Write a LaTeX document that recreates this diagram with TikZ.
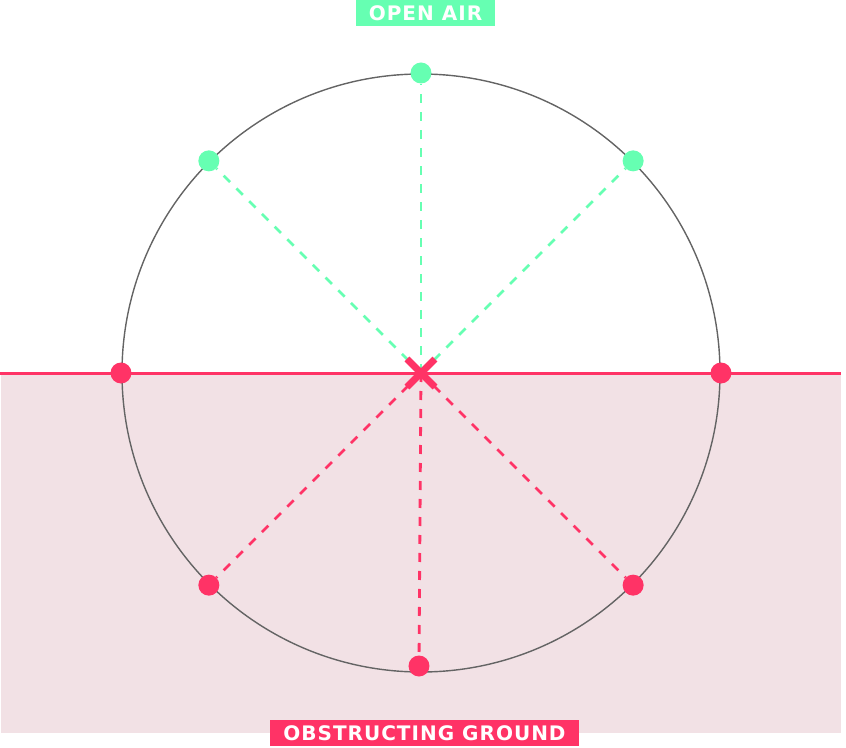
\documentclass[tikz,border=0pt]{standalone}
\usepackage{fontspec}
\newfontfamily\tagfont[LetterSpace=5]{DejaVu Sans}
\usetikzlibrary{calc}
\definecolor{airgreen}{RGB}{102,255,178}
\definecolor{groundred}{RGB}{255,51,102}
\definecolor{groundfill}{RGB}{242,225,229}
\definecolor{rimgray}{RGB}{100,100,100}

\begin{document}
\begin{tikzpicture}[x=1pt,y=1pt,
  dot/.style={circle,inner sep=0pt,minimum size=21pt},
  ray/.style={dash pattern=on 9pt off 9pt,line width=2.8pt},
  tag/.style={inner sep=0pt,minimum height=26pt,text=white,
    font=\tagfont\bfseries\fontsize{20}{20}\selectfont}]
\useasboundingbox (-421,-374) rectangle (425,373);
% ground below the horizon
\fill [groundfill] (-420,0) rectangle (420,-360);
\coordinate (c) at (0,0);
\draw [rimgray, line width=1.4pt] (c) circle (299);
\draw [groundred, line width=3pt] (-421,0) coordinate (hl) -- (420,0) coordinate (hr);
% free directions
\foreach \a/\n in {45/ne,90/n,135/nw}
  \node [dot, fill=airgreen] (\n) at (\a:300) {};
% blocked directions
\foreach \a/\n in {0/e,180/w,225/sw,315/se}
  \node [dot, fill=groundred] (\n) at (\a:300) {};
\node [dot, fill=groundred] (s) at (-2,-293) {};
\foreach \n in {ne,n,nw}
  \draw [ray, airgreen] (c) -- (\n);
\foreach \n in {sw,s,se}
  \draw [ray, groundred] (c) -- (\n);
% observer
\draw [groundred, line width=7pt] (-14,-14) -- (14,14) (-14,14) -- (14,-14);
\node [tag, fill=airgreen, minimum width=139pt] (air) at (4.5,360) {OPEN AIR};
\node [tag, fill=groundred, minimum width=309pt] (ground) at (3.5,-360) {OBSTRUCTING GROUND};
\end{tikzpicture}
\end{document}
